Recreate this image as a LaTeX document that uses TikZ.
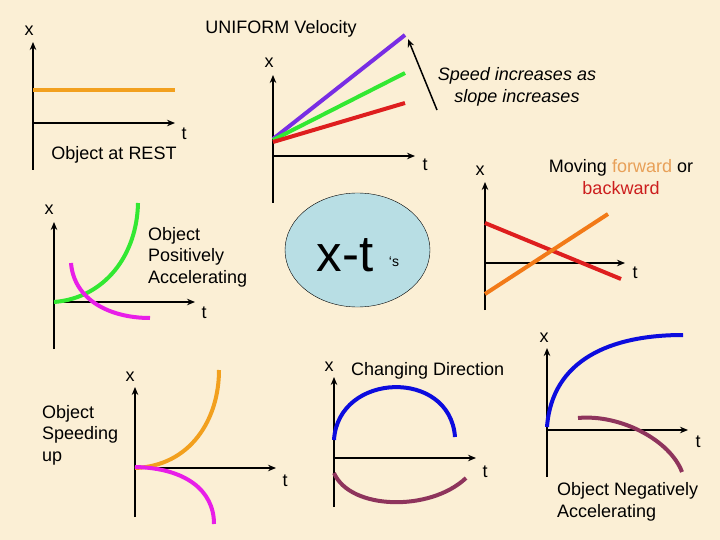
\documentclass[tikz,border=0pt]{standalone}
\usepackage{fontspec}
\setmainfont{Liberation Sans}
\usetikzlibrary{arrows.meta, positioning, shapes.geometric}
\definecolor{parch}{RGB}{251,239,213}
\definecolor{bubble}{RGB}{184,222,228}
\definecolor{violetline}{RGB}{120,45,228}
\definecolor{greenline}{RGB}{50,232,50}
\definecolor{redline}{RGB}{222,30,30}
\definecolor{goldline}{RGB}{242,160,30}
\definecolor{orangeline}{RGB}{242,122,24}
\definecolor{fwdtext}{RGB}{232,160,88}
\definecolor{bwdtext}{RGB}{204,30,30}
\definecolor{magline}{RGB}{232,30,232}
\definecolor{blueline}{RGB}{12,12,222}
\definecolor{plumline}{RGB}{142,52,92}
\tikzstyle{axis} = [line width=2pt, -{Stealth[length=8pt,width=6.5pt]}]
\tikzstyle{curve} = [line width=4pt]
\tikzstyle{lbl} = [inner sep=0pt, font=\fontsize{18}{21.5}\selectfont]
\tikzstyle{note} = [inner sep=0pt, align=left, anchor=west, font=\fontsize{18}{21.5}\selectfont]

\begin{document}
\begin{tikzpicture}[x=1pt, y=-1pt]
  \useasboundingbox[fill=parch] (0,0) rectangle (720,540);

  % at rest
  \coordinate (rO) at (33,123); \coordinate (rB) at (33,170);
  \coordinate (rT) at (33,42);  \coordinate (rR) at (175,123);
  \draw[axis] (rB) -- (rT);
  \draw[axis] (rO) -- (rR);
  \draw[curve, goldline] (33,90) -- (175,90);
  \node[lbl] (rx) at (29,31) {x};
  \node[lbl] (rt) at (184,134) {t};
  \node[lbl] (rest) at (114,155) {Object at REST};

  % uniform velocity
  \node[lbl] (uniform) at (281,29) {UNIFORM Velocity};
  \coordinate (uO) at (273,156); \coordinate (uB) at (273,203);
  \coordinate (uT) at (273,75);  \coordinate (uR) at (415,156);
  \draw[axis] (uB) -- (uT);
  \draw[axis] (uO) -- (uR);
  \draw[curve, violetline] (273,139) -- (405,35);
  \draw[curve, greenline] (273,140) -- (405,73);
  \draw[curve, redline] (273,142) -- (405,103);
  \node[lbl] (ux) at (269,63) {x};
  \node[lbl] (ut) at (425,165) {t};
  \node[lbl, align=center, font=\fontsize{18}{22}\selectfont\itshape] (speed) at (517,87) {Speed increases as\\slope increases};
  \coordinate (sTail) at (437,110); \coordinate (sTip) at (408,39);
  \draw[line width=1.5pt, -{Stealth[length=8pt,width=6.5pt]}] (sTail) -- (sTip);

  % centre bubble
  \node[ellipse, draw=black, fill=bubble, minimum width=145pt, minimum height=114pt] (xt) at (357.5,250) {};
  \node[inner sep=0pt, font=\fontsize{51}{51}\selectfont] (xtlbl) at (345,255) {x-t};
  \node[inner sep=0pt, font=\fontsize{14}{14}\selectfont] (xts) at (394,262) {‘s};

  % forward or backward
  \coordinate (mO) at (485,263); \coordinate (mB) at (485,310);
  \coordinate (mT) at (485,182); \coordinate (mR) at (625,263);
  \draw[axis] (mB) -- (mT);
  \draw[axis] (mO) -- (mR);
  \draw[curve, redline] (485,223) -- (621,279);
  \draw[curve, orangeline] (485,294) -- (608,214);
  \node[lbl] (mx) at (480,171) {x};
  \node[lbl] (mt) at (635,273) {t};
  \node[lbl, align=center] (moving) at (621,177) {Moving \textcolor{fwdtext}{forward} or\\\textcolor{bwdtext}{backward}};

  % positively accelerating
  \coordinate (pO) at (54,302); \coordinate (pB) at (54,349);
  \coordinate (pT) at (54,222); \coordinate (pR) at (195,302);
  \draw[axis] (pB) -- (pT);
  \draw[axis] (pO) -- (pR);
  \draw[curve, greenline] (54,302) .. controls (105,298) and (137,255) .. (138,203);
  \draw[curve, magline] (71,263) .. controls (74,300) and (110,318) .. (150,318);
  \node[lbl] (px) at (49,210) {x};
  \node[lbl] (pt) at (204,313) {t};
  \node[note] (positive) at (148,257) {Object\\Positively\\Accelerating};

  % speeding up
  \coordinate (qO) at (135,468); \coordinate (qB) at (135,517);
  \coordinate (qT) at (135,387); \coordinate (qR) at (276,468);
  \draw[axis] (qB) -- (qT);
  \draw[axis] (qO) -- (qR);
  \draw[curve, goldline] (135,468) .. controls (190,466) and (219,420) .. (219,370);
  \draw[curve, magline] (135,467) .. controls (185,468) and (214,490) .. (214,524);
  \node[lbl] (qx) at (130,377) {x};
  \node[lbl] (qt) at (285,481) {t};
  \node[note] (speeding) at (42,435) {Object\\Speeding\\up};

  % changing direction
  \coordinate (cO) at (334,458); \coordinate (cB) at (334,507);
  \coordinate (cT) at (334,377); \coordinate (cR) at (476,458);
  \draw[axis] (cB) -- (cT);
  \draw[axis] (cO) -- (cR);
  \draw[curve, blueline] (334,440) .. controls (338,372) and (450,368) .. (455,437);
  \draw[curve, plumline] (334,473) .. controls (350,510) and (430,512) .. (466,478);
  \node[lbl] (cx) at (329,367) {x};
  \node[lbl] (ct) at (485,472) {t};
  \node[note] (changing) at (351,371) {Changing Direction};

  % negatively accelerating
  \coordinate (nO) at (547,430); \coordinate (nB) at (547,477);
  \coordinate (nT) at (547,348); \coordinate (nR) at (688,430);
  \draw[axis] (nB) -- (nT);
  \draw[axis] (nO) -- (nR);
  \draw[curve, blueline] (547,427) .. controls (552,360) and (610,335) .. (683,335);
  \draw[curve, plumline] (578,418) .. controls (620,414) and (670,440) .. (682,472);
  \node[lbl] (nx) at (544,338) {x};
  \node[lbl] (nt) at (698,442) {t};
  \node[note] (negative) at (557,502) {Object Negatively\\Accelerating};
\end{tikzpicture}
\end{document}
